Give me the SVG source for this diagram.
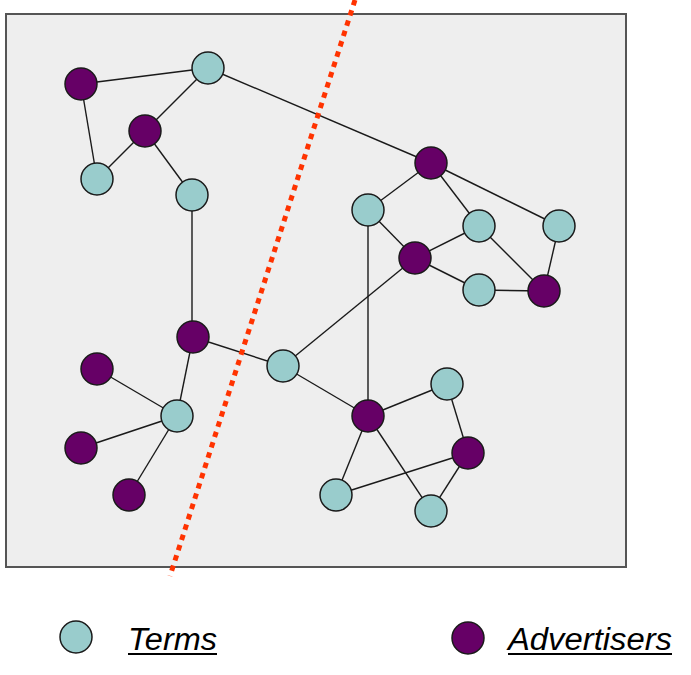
<svg xmlns="http://www.w3.org/2000/svg" width="691" height="675" viewBox="0 0 691 675">
<style>
.term{fill:#99cccc;stroke:#1a1a1a;stroke-width:1.5}
.adv{fill:#660066;stroke:#1a1a1a;stroke-width:1.5}
.edges line{stroke:#1a1a1a;stroke-width:1.4}
.lbl{font-family:"Liberation Sans",Arial,sans-serif;font-style:italic;font-size:31px;fill:#000}
.ul{stroke:#000;stroke-width:2}
</style>
<rect width="691" height="675" fill="#fff"/>
<rect id="frame" x="6" y="14" width="620" height="553" fill="#eeeeee" stroke="#555" stroke-width="2"/>
<g id="connectors" class="edges">
<line x1="81" y1="84" x2="208" y2="68"/>
<line x1="81" y1="84" x2="97" y2="179"/>
<line x1="208" y1="68" x2="145" y2="131"/>
<line x1="145" y1="131" x2="97" y2="179"/>
<line x1="145" y1="131" x2="192" y2="195"/>
<line x1="208" y1="68" x2="431" y2="163"/>
<line x1="192" y1="195" x2="192" y2="337"/>
<line x1="193" y1="337" x2="283" y2="366"/>
<line x1="193" y1="337" x2="177" y2="416"/>
<line x1="177" y1="416" x2="97" y2="369"/>
<line x1="177" y1="416" x2="81" y2="448"/>
<line x1="177" y1="416" x2="129" y2="495"/>
<line x1="283" y1="366" x2="415" y2="258"/>
<line x1="283" y1="366" x2="368" y2="416"/>
<line x1="431" y1="163" x2="368" y2="210"/>
<line x1="431" y1="163" x2="479" y2="226"/>
<line x1="431" y1="163" x2="559" y2="226"/>
<line x1="368" y1="210" x2="415" y2="258"/>
<line x1="368" y1="210" x2="368" y2="416"/>
<line x1="415" y1="258" x2="479" y2="226"/>
<line x1="415" y1="258" x2="479" y2="290"/>
<line x1="479" y1="226" x2="544" y2="291"/>
<line x1="479" y1="290" x2="544" y2="291"/>
<line x1="559" y1="226" x2="544" y2="291"/>
<line x1="368" y1="416" x2="447" y2="384"/>
<line x1="368" y1="416" x2="336" y2="495"/>
<line x1="368" y1="416" x2="431" y2="511"/>
<line x1="447" y1="384" x2="468" y2="453"/>
<line x1="468" y1="453" x2="336" y2="495"/>
<line x1="468" y1="453" x2="431" y2="511"/>
</g>
<g id="a1"><circle class="adv" cx="81" cy="84" r="16"/></g>
<g id="t1"><circle class="term" cx="208" cy="68" r="16"/></g>
<g id="a2"><circle class="adv" cx="145" cy="131" r="16"/></g>
<g id="t2"><circle class="term" cx="97" cy="179" r="16"/></g>
<g id="t3"><circle class="term" cx="192" cy="195" r="16"/></g>
<g id="a3"><circle class="adv" cx="431" cy="163" r="16"/></g>
<g id="t4"><circle class="term" cx="368" cy="210" r="16"/></g>
<g id="t5"><circle class="term" cx="479" cy="226" r="16"/></g>
<g id="t6"><circle class="term" cx="559" cy="226" r="16"/></g>
<g id="a4"><circle class="adv" cx="415" cy="258" r="16"/></g>
<g id="t7"><circle class="term" cx="479" cy="290" r="16"/></g>
<g id="a5"><circle class="adv" cx="544" cy="291" r="16"/></g>
<g id="a6"><circle class="adv" cx="193" cy="337" r="16"/></g>
<g id="a7"><circle class="adv" cx="97" cy="369" r="16"/></g>
<g id="t8"><circle class="term" cx="283" cy="366" r="16"/></g>
<g id="t9"><circle class="term" cx="177" cy="416" r="16"/></g>
<g id="a8"><circle class="adv" cx="81" cy="448" r="16"/></g>
<g id="a9"><circle class="adv" cx="129" cy="495" r="16"/></g>
<g id="a10"><circle class="adv" cx="368" cy="416" r="16"/></g>
<g id="t11"><circle class="term" cx="447" cy="384" r="16"/></g>
<g id="a11"><circle class="adv" cx="468" cy="453" r="16"/></g>
<g id="t10"><circle class="term" cx="336" cy="495" r="16"/></g>
<g id="t12"><circle class="term" cx="431" cy="511" r="16"/></g>
<line id="cut" x1="355" y1="0" x2="170" y2="576" stroke="#ff3300" stroke-width="5" stroke-dasharray="5.5 5.3"/>
<g id="legend-terms">
<circle class="term" cx="76" cy="637" r="16"/>
<text class="lbl" x="128" y="650" textLength="89" lengthAdjust="spacingAndGlyphs">Terms</text>
<line class="ul" x1="128" y1="654" x2="217" y2="654"/>
</g>
<g id="legend-advertisers">
<circle class="adv" cx="468" cy="638" r="16"/>
<text class="lbl" x="508" y="650" textLength="164" lengthAdjust="spacingAndGlyphs">Advertisers</text>
<line class="ul" x1="508" y1="654" x2="672" y2="654"/>
</g>
</svg>
